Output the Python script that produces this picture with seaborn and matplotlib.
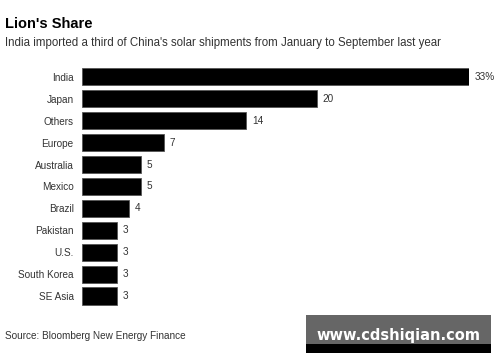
import pandas as pd
import seaborn as sns
import matplotlib.pyplot as plt

countries = ["India", "Japan", "Others", "Europe", "Australia", "Mexico",
             "Brazil", "Pakistan", "U.S.", "South Korea", "SE Asia"]
shares = [33, 20, 14, 7, 5, 5, 4, 3, 3, 3, 3]
value_labels = ["33%", "20", "14", "7", "5", "5", "4", "3", "3", "3", "3"]

data = pd.DataFrame({"country": countries, "share": shares})

sns.set_theme(style="white")
plt.rcParams["font.family"] = ["Liberation Sans", "DejaVu Sans"]

fig = plt.figure(figsize=(5, 3.62), dpi=100)
ax = fig.add_axes([0.164, 0.152, 0.774, 0.666])

sns.barplot(x="share", y="country", data=data, color="black", width=0.78,
            edgecolor="#555555", linewidth=0.6, saturation=1, ax=ax)

ax.set_xlim(0, 33)
ax.set_ylim(10.5, -0.5)
ax.set_xlabel("")
ax.set_ylabel("")
ax.set_xticks([])
ax.tick_params(axis="y", length=0, pad=6, labelsize=7.2, labelcolor="#333333")
sns.despine(ax=ax, left=True, bottom=True)

for i, (v, lab) in enumerate(zip(shares, value_labels)):
    ax.text(v + 0.5, i, lab, va="center", ha="left", fontsize=7.2,
            color="#333333", clip_on=False)

fig.text(0.01, 0.935, "Lion's Share", fontsize=10.5, fontweight="bold",
         color="black", va="center", ha="left")
fig.text(0.01, 0.88, "India imported a third of China's solar shipments from January to September last year",
         fontsize=8.3, color="#333333", va="center", ha="left")
fig.text(0.01, 0.072, "Source: Bloomberg New Energy Finance", fontsize=7.2,
         color="#333333", va="center", ha="left")

# watermark box
fig.patches.append(plt.Rectangle((0.612, 0.025), 0.37, 0.025, transform=fig.transFigure,
                                 facecolor="black", edgecolor="none"))
fig.patches.append(plt.Rectangle((0.612, 0.05), 0.37, 0.08, transform=fig.transFigure,
                                 facecolor="#666666", edgecolor="none"))
fig.text(0.797, 0.072, "www.cdshiqian.com", fontsize=10.5, fontweight="bold",
         color="white", va="center", ha="center", family=["DejaVu Sans"])

fig.savefig("out.png", dpi=100)
